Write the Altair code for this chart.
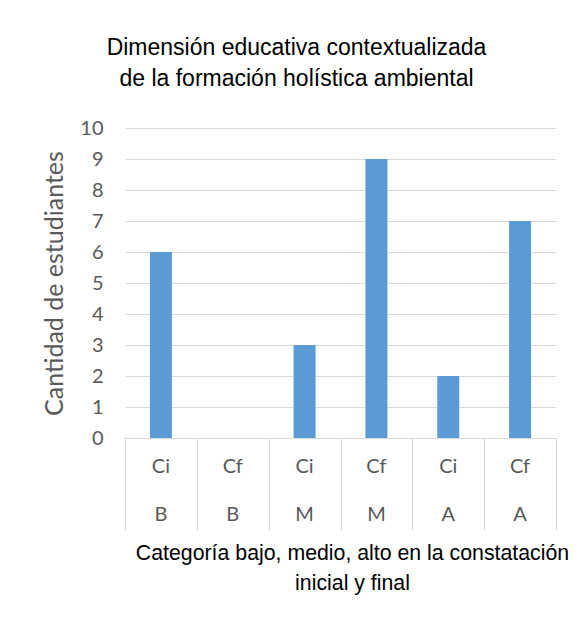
import altair as alt
import pandas as pd

phase = ["Ci", "Cf", "Ci", "Cf", "Ci", "Cf"]
level = ["B", "B", "M", "M", "A", "A"]
values = [6, 0, 3, 9, 2, 7]
y_ticks = [0, 1, 2, 3, 4, 5, 6, 7, 8, 9, 10]

keys = [f"{p}-{l}-{i}" for i, (p, l) in enumerate(zip(phase, level))]
df = pd.DataFrame({"key": keys, "phase": phase, "level": level, "value": values})

GREY = "#595959"
LINE = "#d9d9d9"
TFONT = "Liberation Sans"
LFONT = "Lato"

x_enc = alt.X(
    "key:N",
    sort=keys,
    scale=alt.Scale(paddingInner=0, paddingOuter=0),
    axis=alt.Axis(
        labels=False,
        ticks=True,
        tickBand="extent",
        tickSize=92,
        tickColor=LINE,
        domainColor=LINE,
        title=["Categoría bajo, medio, alto en la constatación", "inicial y final"],
        titleFont=TFONT,
        titleFontSize=21.3,
        titleFontWeight="normal",
        titleColor="#000000",
        titleLineHeight=30,
        titleAlign="center",
        titleAnchor="start",
        titleX=227,
        titleY=104,
        titleBaseline="top",
    ),
)

bars = alt.Chart(df).mark_bar(size=22, color="#5B9BD5").encode(
    x=x_enc,
    y=alt.Y(
        "value:Q",
        scale=alt.Scale(domain=[0, 10], nice=False),
        axis=alt.Axis(
            values=y_ticks,
            title="Cantidad de estudiantes",
            titleFont=LFONT,
            titleFontSize=25,
            titleFontWeight="normal",
            titleColor=GREY,
            titlePadding=12,
            labelFont=LFONT,
            labelFontSize=20,
            labelColor=GREY,
            labelPadding=22,
            ticks=False,
            domain=False,
            gridColor=LINE,
        ),
    ),
)

phase_text = alt.Chart(df).mark_text(
    font=LFONT, fontSize=20, color=GREY, baseline="middle"
).encode(x=alt.X("key:N", sort=keys), y=alt.value(339), text="phase:N")

level_text = alt.Chart(df).mark_text(
    font=LFONT, fontSize=20, color=GREY, baseline="middle"
).encode(x=alt.X("key:N", sort=keys), y=alt.value(387), text="level:N")

chart = (
    alt.layer(bars, phase_text, level_text)
    .properties(
        width=431,
        height=310,
        padding={"left": 117, "top": 120, "right": 17, "bottom": 180},
        autosize=alt.AutoSizeParams(type="none"),
        title=alt.TitleParams(
            text=["Dimensión educativa contextualizada", "de la formación holística ambiental"],
            font=TFONT,
            fontSize=23,
            fontWeight="normal",
            color="#000000",
            lineHeight=31,
            anchor="middle",
            dx=-44,
            offset=27,
        ),
    )
    .configure_view(stroke=None)
    .configure_axis(grid=True)
    .configure_axisX(grid=False)
)

chart.save("out.html", embed_options={"renderer": "svg", "actions": False})
